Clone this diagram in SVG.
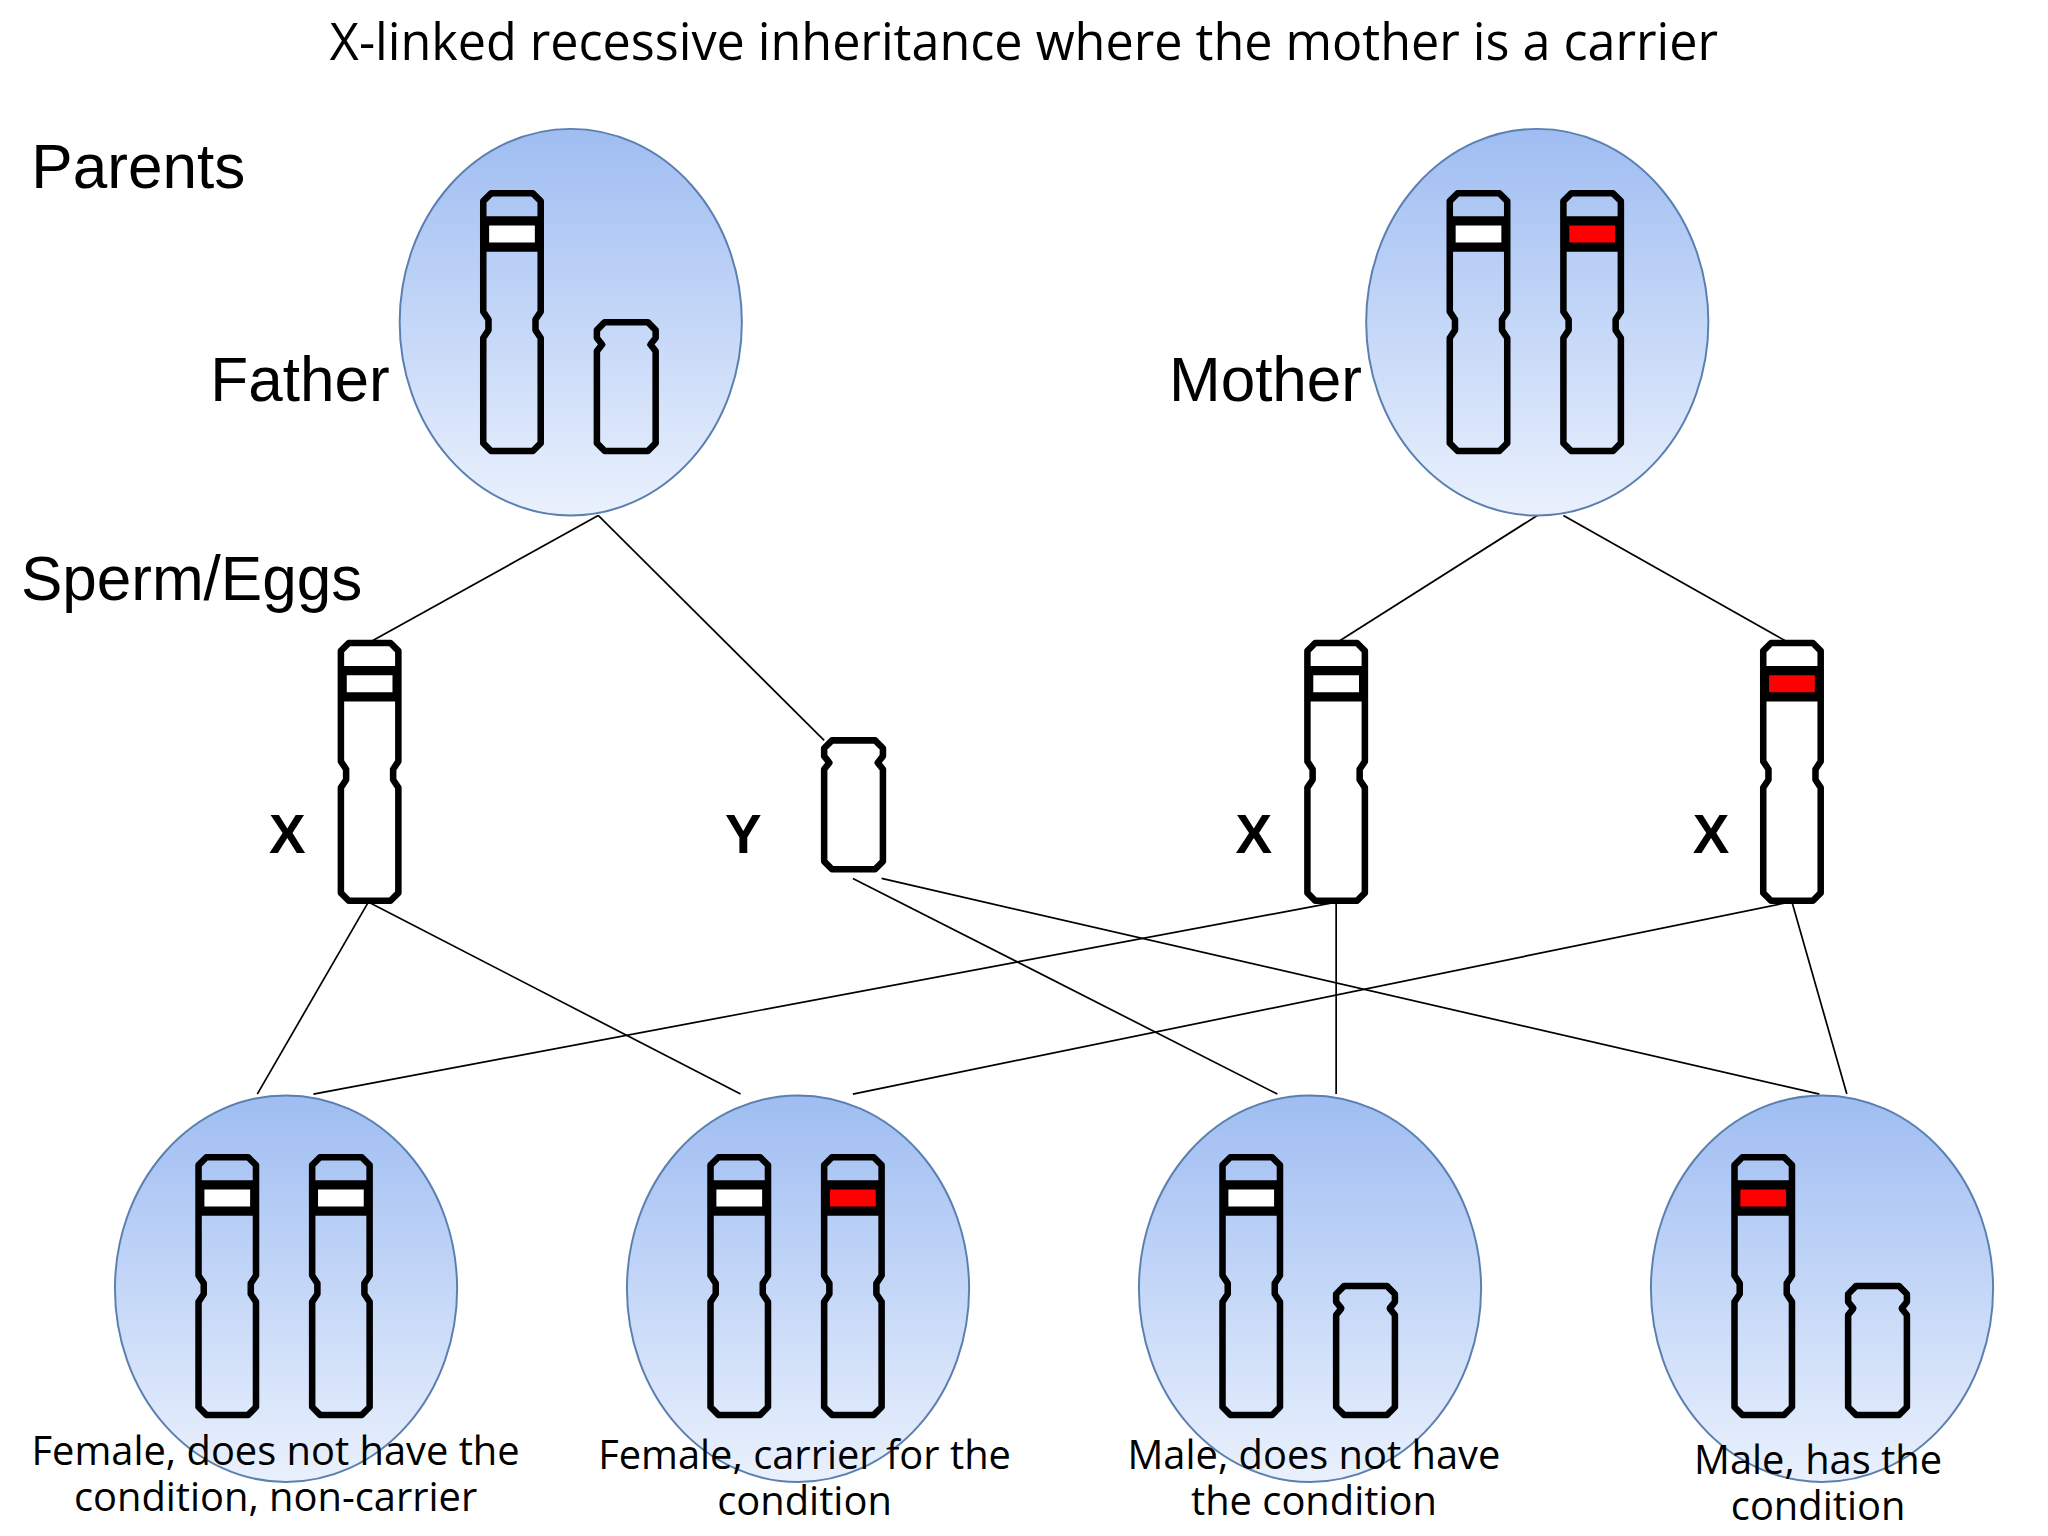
<svg xmlns="http://www.w3.org/2000/svg" width="2048" height="1536" viewBox="0 0 2048 1536">
<defs>
<linearGradient id="g" x1="0" y1="0" x2="0" y2="1"><stop offset="0" stop-color="#9fbdf2"/><stop offset="1" stop-color="#eaf1fd"/></linearGradient>
<path id="xc" d="M6,0 H38 L44,6 V90 L40,96 L40,104 L44,110 V190 L38,196 H6 L0,190 V110 L4,104 L4,96 L0,90 V6 Z M0,20 H44 M0,42 H44"/>
<path id="yc" d="M6,0 H39 L45,6 V12 L41,17 L45,22 V92 L39,98 H6 L0,92 V22 L4,17 L0,12 V6 Z"/>
<g id="xn"><rect x="2" y="22" width="40" height="18" fill="#fff"/><use href="#xc"/></g>
<g id="xr"><rect x="2" y="22" width="40" height="18" fill="#f00"/><use href="#xc"/></g>
</defs>
<style>
.cell{fill:url(#g);stroke:#5a7fb0;stroke-width:1.5}
use,path{fill:none;stroke:#000;stroke-width:5;stroke-linejoin:round}
.ln line{stroke:#000;stroke-width:1.3}
.big{font-family:"Liberation Sans",Arial,sans-serif;font-size:47.5px}
.lab{font-family:"Liberation Sans",Arial,sans-serif;font-size:42px;font-weight:bold}
.sm{font-family:"Open Sans",sans-serif;font-size:30.5px;text-anchor:middle}
</style>
<rect width="2048" height="1536" fill="#fff"/>
<g transform="scale(1.3061,1.315)">
<text x="784" y="46" font-family="Open Sans,sans-serif" font-size="38.5" text-anchor="middle">X-linked recessive inheritance where the mother is a carrier</text>
<text class="big" x="24" y="143">Parents</text>
<text class="big" x="16" y="456">Sperm/Eggs</text>
<text class="big" x="161" y="305" font-size="38.5">Father</text>
<text class="big" x="895" y="305" font-size="38.5">Mother</text>
<g class="ln">
<line x1="458" y1="392" x2="282" y2="489"/><line x1="458" y1="392" x2="631" y2="563"/>
<line x1="1177" y1="392" x2="1023" y2="489"/><line x1="1197" y1="392" x2="1370" y2="489"/>
<line x1="282" y1="686" x2="197" y2="832"/><line x1="282" y1="686" x2="567" y2="832"/>
<line x1="1023" y1="686" x2="240" y2="832"/><line x1="1370" y1="686" x2="653" y2="832"/>
<line x1="653" y1="668" x2="978" y2="832"/><line x1="675" y1="668" x2="1393" y2="832"/>
<line x1="1023" y1="686" x2="1023" y2="832"/><line x1="1372" y1="686" x2="1414" y2="832"/>
</g>
<g id="father"><ellipse class="cell" cx="437" cy="245" rx="131" ry="147"/><use href="#xn" x="370" y="147"/><use href="#yc" x="457" y="245"/></g>
<g id="mother"><ellipse class="cell" cx="1177" cy="245" rx="131" ry="147"/><use href="#xn" x="1110" y="147"/><use href="#xr" x="1197" y="147"/></g>
<g id="s1"><use href="#xn" x="261" y="489"/><text class="lab" x="206" y="649">X</text></g>
<g id="s2"><use href="#yc" x="631" y="563"/><text class="lab" x="555" y="649">Y</text></g>
<g id="e1"><use href="#xn" x="1001" y="489"/><text class="lab" x="946" y="649">X</text></g>
<g id="e2"><use href="#xr" x="1350" y="489"/><text class="lab" x="1296" y="649">X</text></g>
<g id="c1"><ellipse class="cell" cx="219" cy="980" rx="131" ry="147"/><use href="#xn" x="152" y="880"/><use href="#xn" x="239" y="880"/><text class="sm" x="211" y="1114">Female, does not have the</text><text class="sm" x="211" y="1149">condition, non-carrier</text></g>
<g id="c2"><ellipse class="cell" cx="611" cy="980" rx="131" ry="147"/><use href="#xn" x="544" y="880"/><use href="#xr" x="631" y="880"/><text class="sm" x="616" y="1117">Female, carrier for the</text><text class="sm" x="616" y="1152">condition</text></g>
<g id="c3"><ellipse class="cell" cx="1003" cy="980" rx="131" ry="147"/><use href="#xn" x="936" y="880"/><use href="#yc" x="1023" y="978"/><text class="sm" x="1006" y="1117">Male, does not have</text><text class="sm" x="1006" y="1152">the condition</text></g>
<g id="c4"><ellipse class="cell" cx="1395" cy="980" rx="131" ry="147"/><use href="#xr" x="1328" y="880"/><use href="#yc" x="1415" y="978"/><text class="sm" x="1392" y="1121">Male, has the</text><text class="sm" x="1392" y="1156">condition</text></g>
</g>
</svg>
